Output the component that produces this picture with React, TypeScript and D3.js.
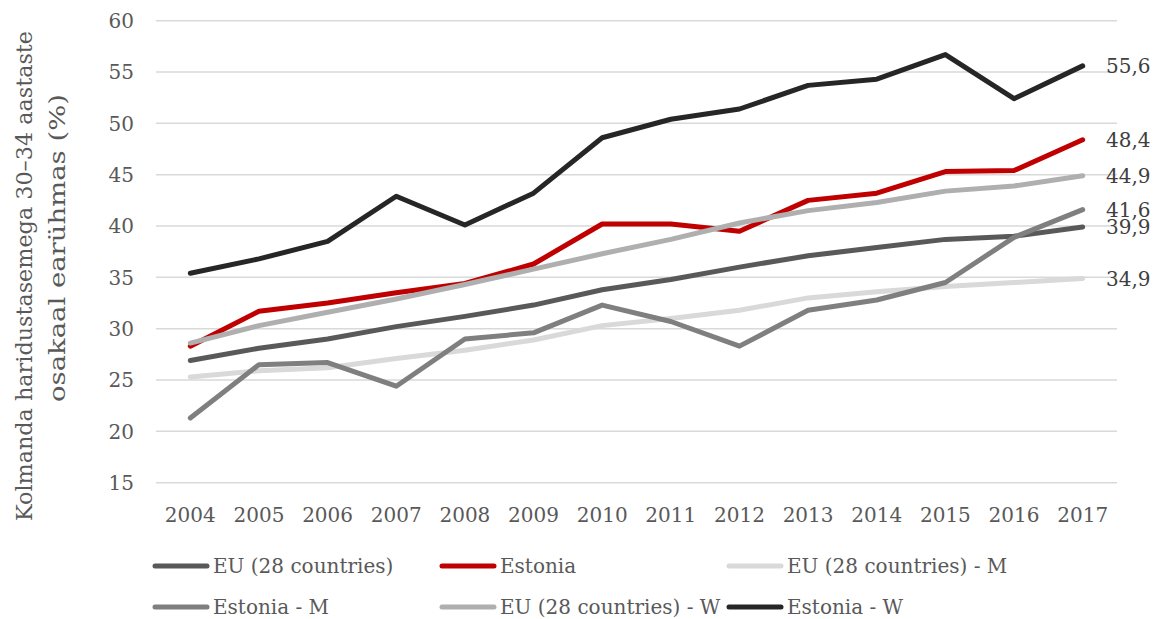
import React, { useEffect, useRef } from 'react';
import * as d3 from 'd3';

const years = [2004, 2005, 2006, 2007, 2008, 2009, 2010, 2011, 2012, 2013, 2014, 2015, 2016, 2017];

const euTotal = [26.9, 28.1, 29.0, 30.2, 31.2, 32.3, 33.8, 34.8, 36.0, 37.1, 37.9, 38.7, 39.0, 39.9];
const estTotal = [28.3, 31.7, 32.5, 33.5, 34.4, 36.3, 40.2, 40.2, 39.5, 42.5, 43.2, 45.3, 45.4, 48.4];
const euMen = [25.3, 25.9, 26.2, 27.1, 27.9, 28.9, 30.3, 31.0, 31.8, 33.0, 33.6, 34.1, 34.5, 34.9];
const estMen = [21.3, 26.5, 26.7, 24.4, 29.0, 29.6, 32.3, 30.7, 28.3, 31.8, 32.8, 34.5, 38.9, 41.6];
const euWomen = [28.6, 30.3, 31.6, 32.9, 34.3, 35.8, 37.3, 38.7, 40.3, 41.5, 42.3, 43.4, 43.9, 44.9];
const estWomen = [35.4, 36.8, 38.5, 42.9, 40.1, 43.2, 48.6, 50.4, 51.4, 53.7, 54.3, 56.7, 52.4, 55.6];

const seriesNames = [
  'EU (28 countries)',
  'Estonia',
  'EU (28 countries) - M',
  'Estonia - M',
  'EU (28 countries) - W',
  'Estonia - W',
];
const seriesValues = [euTotal, estTotal, euMen, estMen, euWomen, estWomen];
const seriesColors = ['#595959', '#c00000', '#d9d9d9', '#7f7f7f', '#afafaf', '#262626'];

const yTicks = [15, 20, 25, 30, 35, 40, 45, 50, 55, 60];
const titleLines = ['Kolmanda haridustasemega 30–34 aastaste', 'osakaal earühmas (%)'];

const FONT = '"DejaVu Serif", serif';
const TEXT = '#595959';

export default function App() {
  const ref = useRef<SVGSVGElement>(null);

  useEffect(() => {
    const width = 1154;
    const height = 619;
    const svg = d3.select(ref.current).attr('width', width).attr('height', height);
    svg.selectAll('*').remove();

    const plot = { left: 156, right: 1117, top: 20.7, bottom: 482.7 };

    const xScale = d3
      .scaleBand<number>()
      .domain(years)
      .range([plot.left, plot.right]);
    const xMid = (yr: number) => (xScale(yr) as number) + xScale.bandwidth() / 2;

    const yScale = d3.scaleLinear().domain([15, 60]).range([plot.bottom, plot.top]);

    // grid
    svg
      .append('g')
      .selectAll('line')
      .data(yTicks)
      .enter()
      .append('line')
      .attr('x1', plot.left)
      .attr('x2', plot.right)
      .attr('y1', (d) => yScale(d))
      .attr('y2', (d) => yScale(d))
      .attr('stroke', '#d9d9d9')
      .attr('stroke-width', 1.5);

    // y ticks
    svg
      .append('g')
      .selectAll('text')
      .data(yTicks)
      .enter()
      .append('text')
      .attr('x', 134)
      .attr('y', (d) => yScale(d))
      .attr('dy', '0.36em')
      .attr('text-anchor', 'end')
      .attr('font-family', FONT)
      .attr('font-size', 20)
      .attr('fill', TEXT)
      .text((d) => d);

    // x ticks
    svg
      .append('g')
      .selectAll('text')
      .data(years)
      .enter()
      .append('text')
      .attr('x', (d) => xMid(d))
      .attr('y', 522)
      .attr('text-anchor', 'middle')
      .attr('font-family', FONT)
      .attr('font-size', 20)
      .attr('fill', TEXT)
      .text((d) => d);

    // axis title, two rotated lines
    const titleCenters = [276, 248];
    const titleX = [32, 65];
    const titleLen = [490, 308];
    titleLines.forEach((t, i) => {
      svg
        .append('text')
        .attr('transform', `translate(${titleX[i]}, ${titleCenters[i]}) rotate(-90)`)
        .attr('text-anchor', 'middle')
        .attr('font-family', FONT)
        .attr('font-size', 23)
        .attr('textLength', titleLen[i])
        .attr('lengthAdjust', 'spacingAndGlyphs')
        .attr('fill', TEXT)
        .text(t);
    });

    // lines
    const line = d3
      .line<number>()
      .x((d, i) => xMid(years[i]))
      .y((d) => yScale(d));

    seriesValues.forEach((vals, i) => {
      svg
        .append('path')
        .attr('d', line(vals) as string)
        .attr('fill', 'none')
        .attr('stroke', seriesColors[i])
        .attr('stroke-width', 5)
        .attr('stroke-linejoin', 'round')
        .attr('stroke-linecap', 'round');
    });

    // end labels
    seriesValues.forEach((vals) => {
      const last = vals[vals.length - 1];
      svg
        .append('text')
        .attr('x', 1106)
        .attr('y', yScale(last))
        .attr('dy', '0.36em')
        .attr('font-family', FONT)
        .attr('font-size', 20)
        .attr('fill', '#404040')
        .text(d3.format('.1f')(last).replace('.', ','));
    });

    // legend
    const colX = [153, 440, 727];
    const rowY = [566, 607];
    const legend = svg
      .append('g')
      .selectAll('g')
      .data(seriesNames)
      .enter()
      .append('g')
      .attr('transform', (d, i) => `translate(${colX[i % 3]}, ${rowY[Math.floor(i / 3)]})`);

    legend
      .append('line')
      .attr('x1', 2)
      .attr('x2', 54)
      .attr('stroke', (d, i) => seriesColors[i])
      .attr('stroke-width', 5)
      .attr('stroke-linecap', 'round');

    legend
      .append('text')
      .attr('x', 60)
      .attr('dy', '0.36em')
      .attr('font-family', FONT)
      .attr('font-size', 20)
      .attr('fill', TEXT)
      .text((d) => d);
  }, []);

  return <svg ref={ref} style={{ position: 'absolute', left: 0, top: 0, background: '#fff' }} />;
}
